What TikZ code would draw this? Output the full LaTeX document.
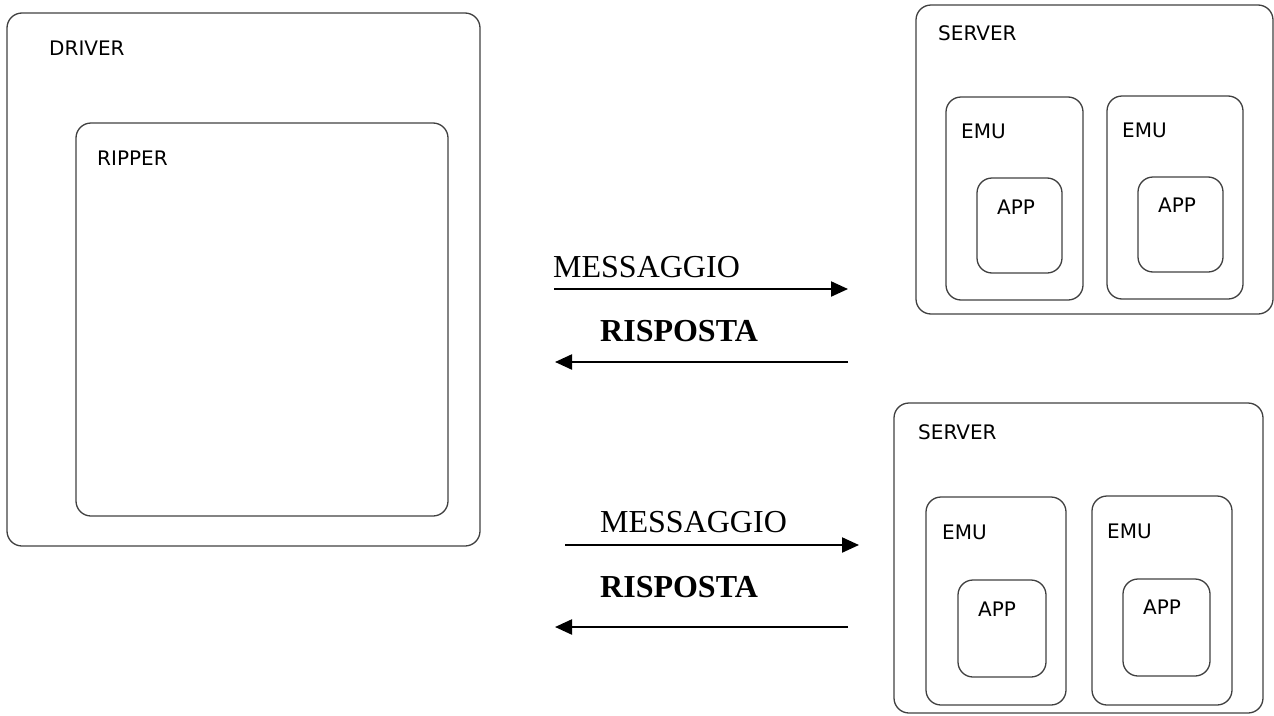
\documentclass[tikz,border=0pt]{standalone}
\usepackage{fontspec}
\setmainfont{Liberation Serif}
\newfontfamily\boxfont{DejaVu Sans}
\usetikzlibrary{arrows.meta}
\tikzset{
  rbox/.style={draw=black!75, line width=1.3pt, rounded corners=15pt, inner sep=0pt},
  lbl/.style={font=\boxfont\fontsize{20pt}{22pt}\selectfont, inner sep=0pt, anchor=west},
  msgtext/.style={font=\fontsize{32pt}{36pt}\selectfont, inner sep=0pt, anchor=west},
  anstext/.style={font=\bfseries\fontsize{32pt}{36pt}\selectfont, inner sep=0pt, anchor=west},
  flow/.style={line width=2.2pt, -{Triangle[length=17pt,width=15pt]}}
}
\begin{document}
\begin{tikzpicture}[x=1pt,y=-1pt]
\useasboundingbox (0,0) rectangle (1274,715);

% client side
\node[rbox, minimum width=473pt, minimum height=533pt] (driver) at (243.5,279.5) {};
\node[rbox, minimum width=372pt, minimum height=393pt] (ripper) at (262,319.5) {};
\node[lbl] (tdriver) at (49,48) {DRIVER};
\node[lbl] (tripper) at (97,158) {RIPPER};

% first server
\node[rbox, minimum width=357pt, minimum height=309pt] (srvA) at (1094.5,159.5) {};
\node[rbox, minimum width=137pt, minimum height=203pt] (emuA) at (1014.5,198.5) {};
\node[rbox, minimum width=136pt, minimum height=203pt] (emuB) at (1175,197.5) {};
\node[rbox, minimum width=85pt, minimum height=95pt] (appA) at (1019.5,225.5) {};
\node[rbox, minimum width=85pt, minimum height=95pt] (appB) at (1180.5,224.5) {};
\node[lbl] (tsrvA) at (938,33) {SERVER};
\node[lbl] (temuA) at (961,131) {EMU};
\node[lbl] (temuB) at (1122,130) {EMU};
\node[lbl] (tappA) at (997,207) {APP};
\node[lbl] (tappB) at (1158,205) {APP};

% second server
\node[rbox, minimum width=369pt, minimum height=310pt] (srvB) at (1078.5,558) {};
\node[rbox, minimum width=140pt, minimum height=208pt] (emuC) at (996,601) {};
\node[rbox, minimum width=140pt, minimum height=209pt] (emuD) at (1162,600.5) {};
\node[rbox, minimum width=88pt, minimum height=97pt] (appC) at (1002,628.5) {};
\node[rbox, minimum width=87pt, minimum height=97pt] (appD) at (1166.5,627.5) {};
\node[lbl] (tsrvB) at (918,432) {SERVER};
\node[lbl] (temuC) at (942,532) {EMU};
\node[lbl] (temuD) at (1107,531) {EMU};
\node[lbl] (tappC) at (978,609) {APP};
\node[lbl] (tappD) at (1143,607) {APP};

% message exchange, upper pair
\coordinate (mA1) at (554,289);
\coordinate (mA2) at (848,289);
\coordinate (rA1) at (848,362);
\coordinate (rA2) at (555,362);
\draw[flow] (mA1) -- (mA2);
\draw[flow] (rA1) -- (rA2);
\node[msgtext] (tmA) at (553,267) {MESSAGGIO};
\node[anstext] (trA) at (600,331) {RISPOSTA};

% message exchange, lower pair
\coordinate (mB1) at (565,545);
\coordinate (mB2) at (859,545);
\coordinate (rB1) at (848,627);
\coordinate (rB2) at (555,627);
\draw[flow] (mB1) -- (mB2);
\draw[flow] (rB1) -- (rB2);
\node[msgtext] (tmB) at (600,522) {MESSAGGIO};
\node[anstext] (trB) at (600,587) {RISPOSTA};
\end{tikzpicture}
\end{document}
